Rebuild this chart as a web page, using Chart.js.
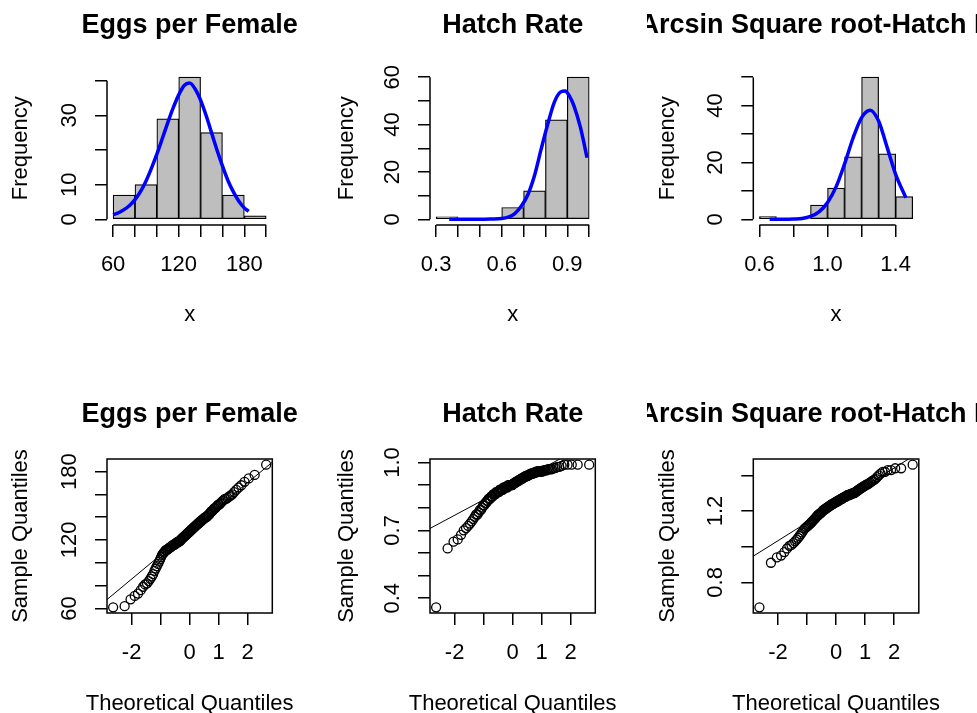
<!DOCTYPE html>
<html>
<head>
<meta charset="utf-8">
<script src="https://cdn.jsdelivr.net/npm/chart.js@4.4.0/dist/chart.umd.min.js"></script>
<style>
  html, body { margin: 0; background: #fff; overflow: hidden; }
  #wrap { position: relative; width: 977px; height: 713px; overflow: hidden; background: #fff; }
  #wrap canvas { position: absolute; }
</style>
</head>
<body>
<div id="wrap"></div>
<script>
// ---- histograms: bin breaks and counts ----
const eggBreaks = [60, 80, 100, 120, 140, 160, 180, 200];
const eggCounts = [7, 10, 29, 41, 25, 7, 1];
const hatchBreaks = [0.3, 0.4, 0.5, 0.6, 0.7, 0.8, 0.9, 1.0];
const hatchCounts = [1, 0, 0, 5, 12, 42, 60];
const asinBreaks = [0.6, 0.7, 0.8, 0.9, 1.0, 1.1, 1.2, 1.3, 1.4, 1.5];
const asinCounts = [1, 0, 0, 5, 11, 22, 50, 23, 8];

// ---- fitted normal curves drawn over the histograms ----
const eggCurveX = [60, 65, 70, 75, 80, 85, 90, 95, 100, 105, 110, 115, 120, 125, 130, 135, 140, 145, 150, 155, 160, 165, 170, 175, 180, 184];
const eggCurveY = [1.3, 1.9, 2.8, 4.0, 5.7, 8.0, 11.0, 14.7, 18.8, 23.3, 27.9, 32.2, 35.9, 38.6, 39.3, 37.6, 34.4, 30.0, 25.0, 20.0, 15.4, 11.2, 7.9, 5.2, 3.3, 2.3];
const hatchCurveX = [0.36, 0.40, 0.45, 0.50, 0.55, 0.60, 0.63, 0.66, 0.69, 0.72, 0.75, 0.78, 0.81, 0.84, 0.87, 0.89, 0.91, 0.93, 0.96, 0.98, 0.99];
const hatchCurveY = [0, 0, 0, 0, 0.1, 0.3, 0.9, 2.4, 5.6, 10.5, 18.5, 29.5, 40.0, 49.3, 53.8, 54.2, 52.0, 48.0, 38.8, 30.5, 26.0];
const asinCurveX = [0.66, 0.70, 0.75, 0.80, 0.85, 0.90, 0.95, 1.00, 1.05, 1.10, 1.15, 1.20, 1.25, 1.30, 1.35, 1.40, 1.46];
const asinCurveY = [0, 0, 0, 0.1, 0.3, 1.0, 2.6, 5.9, 11.4, 19.5, 28.6, 35.8, 38.4, 34.6, 25.3, 15.8, 7.6];

// ---- sorted samples for the normal Q-Q plots ----
const eggSample = [
  61, 62, 68, 71, 73, 76, 79,
  81, 82, 84, 86, 88, 90, 93, 95, 97, 99,
  101, 103, 105, 107, 108, 109, 110, 111, 111, 112, 112, 113, 113, 114, 114, 115, 115, 116, 116, 116,
  117, 117, 118, 118, 118, 119, 119, 119, 120,
  121, 121, 122, 122, 123, 123, 124, 124, 125, 125, 126, 126, 127, 127, 128, 128, 129, 129, 130, 130,
  131, 131, 132, 132, 133, 133, 134, 134, 135, 135, 136, 136, 137, 137, 138, 138, 139, 139, 140, 140, 140,
  141, 142, 142, 143, 144, 145, 145, 146, 147, 148, 148, 149, 150, 151, 151, 152, 153, 154, 155, 156,
  156, 157, 158, 159, 160,
  162, 164, 166, 168, 171, 174, 177,
  186
];
const hatchSample = [
  0.36,
  0.62, 0.65, 0.66, 0.68, 0.70,
  0.71, 0.72, 0.73, 0.74, 0.75, 0.76, 0.77, 0.77, 0.78, 0.79, 0.79, 0.80,
  0.81, 0.81, 0.82, 0.82, 0.83, 0.83, 0.84, 0.84, 0.84, 0.85,
  0.85, 0.85, 0.86, 0.86, 0.86, 0.86, 0.87, 0.87, 0.87, 0.87,
  0.87, 0.88, 0.88, 0.88, 0.88, 0.88, 0.88, 0.89, 0.89, 0.89,
  0.89, 0.89, 0.89, 0.89, 0.90, 0.90, 0.90, 0.90, 0.90, 0.90, 0.90, 0.90,
  0.905, 0.905, 0.91, 0.91, 0.91, 0.915, 0.915, 0.915, 0.92, 0.92,
  0.92, 0.925, 0.925, 0.925, 0.93, 0.93, 0.93, 0.935, 0.935, 0.935,
  0.94, 0.94, 0.94, 0.94, 0.945, 0.945, 0.945, 0.95, 0.95, 0.95,
  0.95, 0.955, 0.955, 0.955, 0.955, 0.96, 0.96, 0.96, 0.96, 0.96,
  0.96, 0.96, 0.965, 0.965, 0.965, 0.965, 0.97, 0.97, 0.97, 0.97,
  0.975, 0.975, 0.98, 0.98, 0.985, 0.99, 0.99, 0.99, 0.99, 0.99
];
const asinSample = [
  0.66,
  0.91, 0.94, 0.95, 0.97, 0.99,
  1.005, 1.01, 1.02, 1.03, 1.04, 1.05, 1.06, 1.07, 1.08, 1.09, 1.10,
  1.105, 1.11, 1.115, 1.12, 1.125, 1.13, 1.135, 1.14, 1.145, 1.15,
  1.155, 1.16, 1.165, 1.17, 1.175, 1.18, 1.18, 1.185, 1.19, 1.19, 1.195, 1.20,
  1.205, 1.205, 1.21, 1.21, 1.215, 1.215, 1.22, 1.22, 1.225, 1.225,
  1.23, 1.23, 1.235, 1.235, 1.24, 1.24, 1.24, 1.245, 1.245, 1.25,
  1.25, 1.25, 1.255, 1.255, 1.26, 1.26, 1.26, 1.265, 1.265, 1.27,
  1.27, 1.27, 1.275, 1.275, 1.28, 1.28, 1.28, 1.285, 1.285, 1.29,
  1.29, 1.29, 1.29, 1.295, 1.295, 1.295, 1.30, 1.30, 1.30, 1.30,
  1.305, 1.31, 1.31, 1.315, 1.32, 1.32, 1.325, 1.33, 1.33, 1.335,
  1.34, 1.34, 1.345, 1.35, 1.35, 1.355, 1.36, 1.365, 1.37, 1.375,
  1.38, 1.39, 1.40,
  1.41, 1.42, 1.42, 1.43, 1.43, 1.44, 1.44, 1.46
];

// ---- tick positions and the labels that get printed ----
const eggHistXTicks = [60, 80, 100, 120, 140, 160, 180, 200];
const eggHistXLabels = ['60', '', '', '120', '', '', '180', ''];
const eggHistYTicks = [0, 10, 20, 30, 40];
const eggHistYLabels = ['0', '10', '', '30', ''];
const hatchHistXTicks = [0.3, 0.4, 0.5, 0.6, 0.7, 0.8, 0.9, 1.0];
const hatchHistXLabels = ['0.3', '', '', '0.6', '', '', '0.9', ''];
const hatchHistYTicks = [0, 10, 20, 30, 40, 50, 60];
const hatchHistYLabels = ['0', '', '20', '', '40', '', '60'];
const asinHistXTicks = [0.6, 0.8, 1.0, 1.2, 1.4];
const asinHistXLabels = ['0.6', '', '1.0', '', '1.4'];
const asinHistYTicks = [0, 10, 20, 30, 40, 50];
const asinHistYLabels = ['0', '', '20', '', '40', ''];
const qqXTicks = [-2, -1, 0, 1, 2];
const qqXLabels = ['-2', '', '0', '1', '2'];
const eggQqYTicks = [60, 80, 100, 120, 140, 160, 180];
const eggQqYLabels = ['60', '', '', '120', '', '', '180'];
const hatchQqYTicks = [0.4, 0.5, 0.6, 0.7, 0.8, 0.9, 1.0];
const hatchQqYLabels = ['0.4', '', '', '0.7', '', '', '1.0'];
const asinQqYTicks = [0.8, 1.0, 1.2, 1.4];
const asinQqYLabels = ['0.8', '', '1.2', ''];

// ---- page layout (R-style mfrow = c(2, 3)) ----
const FAMILY = "'Liberation Sans', Arial, Helvetica, sans-serif";
const FS = 22, TICK = 12;
const colX = [0, 326, 647], colW = [326, 321, 330];
const rowY = [0, 389], rowH = [389, 340];
const plotL = [107, 430, 753.3], plotR = [272.3, 595.3, 918.8];
const plotT = [71.5, 70], plotB = [225, 224];
const XLAB_Y = 314.8, MAIN_Y = 32.7;

Chart.defaults.font.family = FAMILY;
Chart.defaults.font.size = FS;
Chart.defaults.color = '#000';

// inverse normal cdf (Acklam), used for the theoretical quantiles
function qnorm(p) {
  const a = [-3.969683028665376e+01, 2.209460984245205e+02, -2.759285104469687e+02, 1.383577518672690e+02, -3.066479806614716e+01, 2.506628277459239e+00];
  const b = [-5.447609879822406e+01, 1.615858368580409e+02, -1.556989798598866e+02, 6.680131188771972e+01, -1.328068155288572e+01];
  const c = [-7.784894002430293e-03, -3.223964580411365e-01, -2.400758277161838e+00, -2.549732539343734e+00, 4.374664141464968e+00, 2.938163982698783e+00];
  const d = [7.784695709041462e-03, 3.224671290700398e-01, 2.445134137142996e+00, 3.754408661907416e+00];
  const lo = 0.02425;
  if (p < lo || p > 1 - lo) {
    const q = Math.sqrt(-2 * Math.log(p < lo ? p : 1 - p));
    const v = (((((c[0] * q + c[1]) * q + c[2]) * q + c[3]) * q + c[4]) * q + c[5]) /
              ((((d[0] * q + d[1]) * q + d[2]) * q + d[3]) * q + 1);
    return p < lo ? v : -v;
  }
  const q = p - 0.5, r = q * q;
  return (((((a[0] * r + a[1]) * r + a[2]) * r + a[3]) * r + a[4]) * r + a[5]) * q /
         (((((b[0] * r + b[1]) * r + b[2]) * r + b[3]) * r + b[4]) * r + 1);
}

const ext = (lo, hi) => { const d = (hi - lo) * 0.04; return [lo - d, hi + d]; };
const zip = (xs, ys) => xs.map((x, i) => ({ x: x, y: ys[i] }));
const quant = (s, p) => { const h = (s.length - 1) * p, i = Math.floor(h); return s[i] + (h - i) * ((s[i + 1] ?? s[i]) - s[i]); };

const meas = document.createElement('canvas').getContext('2d');
function yLabelPad(labels) {
  meas.font = FS + 'px ' + FAMILY;
  const w = Math.max(...labels.map(l => meas.measureText(l).width));
  return 37.5 - TICK - w / 2;
}

function axis(isY, o, fit) {
  return {
    type: 'linear', min: o.range[0], max: o.range[1], bounds: 'data', offset: false,
    afterBuildTicks: s => { s.ticks = o.ticks.map(v => ({ value: v })); },
    afterFit: s => { if (isY) s.width = fit; else s.height = fit; },
    grid: { drawOnChartArea: false, drawTicks: true, tickLength: TICK, color: '#000', lineWidth: 1.5, offset: false },
    border: { display: false },
    ticks: {
      autoSkip: false, color: '#000', font: { size: FS },
      padding: isY ? yLabelPad(o.labels) : 15.1,
      minRotation: isY ? 90 : 0, maxRotation: isY ? 90 : 0,
      crossAlign: isY ? 'center' : 'near',
      callback: (v, i) => o.labels[i]
    },
    // the y title is left to Chart.js; the x title is written by rFrame so it is not squeezed
    title: {
      display: isY, text: o.title, color: '#000', font: { size: FS },
      padding: { top: 7.3, bottom: 0 }
    }
  };
}

// axes the R way: box for qqnorm, tick-span axis lines for hist, bold main title
function rFrame(title, xlab, boxed) {
  return {
    id: 'rFrame',
    afterDatasetsDraw(chart) {
      const { ctx, chartArea: a, scales: { x, y } } = chart;
      const cx = (a.left + a.right) / 2;
      ctx.save();
      ctx.strokeStyle = '#000';
      ctx.lineWidth = 1.5;
      if (boxed) {
        ctx.strokeRect(a.left, a.top, a.right - a.left, a.bottom - a.top);
      } else {
        const xt = x.ticks, yt = y.ticks;
        ctx.beginPath();
        ctx.moveTo(x.getPixelForValue(xt[0].value), a.bottom);
        ctx.lineTo(x.getPixelForValue(xt[xt.length - 1].value), a.bottom);
        ctx.moveTo(a.left, y.getPixelForValue(yt[0].value));
        ctx.lineTo(a.left, y.getPixelForValue(yt[yt.length - 1].value));
        ctx.stroke();
      }
      ctx.fillStyle = '#000';
      ctx.textAlign = 'center';
      ctx.textBaseline = 'middle';
      ctx.font = FS + 'px ' + FAMILY;
      ctx.fillText(xlab, cx, XLAB_Y);
      ctx.textBaseline = 'alphabetic';
      ctx.font = 'bold 27px ' + FAMILY;
      ctx.fillText(title, cx, MAIN_Y);
      ctx.restore();
    }
  };
}

const wrap = document.getElementById('wrap');

function panel(col, row, title, type, datasets, xo, yo, boxed) {
  const cv = document.createElement('canvas');
  cv.width = colW[col];
  cv.height = rowH[row];
  cv.style.left = colX[col] + 'px';
  cv.style.top = rowY[row] + 'px';
  cv.style.width = colW[col] + 'px';
  cv.style.height = rowH[row] + 'px';
  wrap.appendChild(cv);
  new Chart(cv, {
    type: type,
    data: { datasets: datasets },
    options: {
      responsive: false, animation: false, devicePixelRatio: 1, events: [],
      layout: { padding: { left: 0, bottom: 0, top: plotT[row], right: colX[col] + colW[col] - plotR[col] } },
      plugins: { legend: { display: false }, tooltip: { enabled: false } },
      scales: {
        x: axis(false, xo, rowH[row] - plotB[row]),
        y: axis(true, yo, plotL[col] - colX[col])
      }
    },
    plugins: [rFrame(title, xo.title, boxed)]
  });
}

function histogram(col, title, breaks, counts, cx, cy, xt, xl, yt, yl) {
  const bars = counts.map((c, i) => ({ x: (breaks[i] + breaks[i + 1]) / 2, y: c }));
  panel(col, 0, title, 'bar', [
    { type: 'line', data: zip(cx, cy), borderColor: '#0000ff', borderWidth: 3.5, pointRadius: 0,
      cubicInterpolationMode: 'monotone', fill: false },
    { type: 'bar', data: bars, backgroundColor: '#bebebe', borderColor: '#000', borderWidth: 1.2,
      borderSkipped: false, barPercentage: 1, categoryPercentage: 1 }
  ],
  { range: ext(breaks[0], breaks[breaks.length - 1]), ticks: xt, labels: xl, title: 'x' },
  { range: ext(0, Math.max(...counts)), ticks: yt, labels: yl, title: 'Frequency' },
  false);
}

function qqPlot(col, title, sample, yt, yl) {
  const n = sample.length;
  const theo = sample.map((v, i) => qnorm((i + 0.5) / n));
  const xr = ext(theo[0], theo[n - 1]);
  const z = qnorm(0.75);
  const q1 = quant(sample, 0.25), q3 = quant(sample, 0.75);
  const slope = (q3 - q1) / (2 * z), icpt = q1 + slope * z;
  panel(col, 1, title, 'scatter', [
    { type: 'line', data: xr.map(x => ({ x: x, y: icpt + slope * x })), borderColor: '#000',
      borderWidth: 1, pointRadius: 0, fill: false },
    { type: 'scatter', data: zip(theo, sample), pointRadius: 4.5, borderWidth: 1.3,
      borderColor: '#000', backgroundColor: 'rgba(0,0,0,0)' }
  ],
  { range: xr, ticks: qqXTicks, labels: qqXLabels, title: 'Theoretical Quantiles' },
  { range: ext(sample[0], sample[n - 1]), ticks: yt, labels: yl, title: 'Sample Quantiles' },
  true);
}

histogram(0, 'Eggs per Female', eggBreaks, eggCounts, eggCurveX, eggCurveY,
  eggHistXTicks, eggHistXLabels, eggHistYTicks, eggHistYLabels);
histogram(1, 'Hatch Rate', hatchBreaks, hatchCounts, hatchCurveX, hatchCurveY,
  hatchHistXTicks, hatchHistXLabels, hatchHistYTicks, hatchHistYLabels);
histogram(2, 'Arcsin Square root-Hatch Rate', asinBreaks, asinCounts, asinCurveX, asinCurveY,
  asinHistXTicks, asinHistXLabels, asinHistYTicks, asinHistYLabels);

qqPlot(0, 'Eggs per Female', eggSample, eggQqYTicks, eggQqYLabels);
qqPlot(1, 'Hatch Rate', hatchSample, hatchQqYTicks, hatchQqYLabels);
qqPlot(2, 'Arcsin Square root-Hatch Rate', asinSample, asinQqYTicks, asinQqYLabels);
</script>
</body>
</html>
